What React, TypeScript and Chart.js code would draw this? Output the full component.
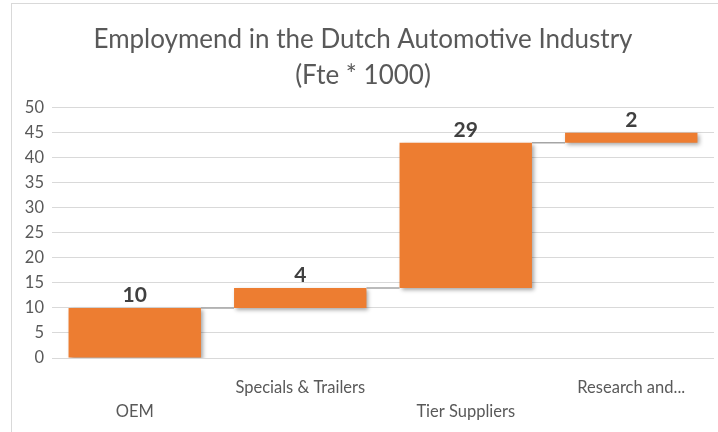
import React, { useEffect, useRef } from "react";
import { Chart, registerables } from "chart.js";

Chart.register(...registerables);

const categories = ["OEM", "Specials & Trailers", "Tier Suppliers", "Research and..."];
const increments = [10, 4, 29, 2];
const yTicks = [0, 5, 10, 15, 20, 25, 30, 35, 40, 45, 50];
const titleLines = ["Employmend in the Dutch Automotive Industry", "(Fte * 1000)"];

const FONT = "Lato, 'Open Sans', sans-serif";
const TEXT = "#595959";

export default function App() {
  const ref = useRef<HTMLCanvasElement>(null);

  useEffect(() => {
    document.body.style.margin = "0";
    const bases: number[] = [];
    let acc = 0;
    increments.forEach((v) => {
      bases.push(acc);
      acc += v;
    });
    const floating = increments.map((v, i) => [bases[i], bases[i] + v]);

    const frame = {
      id: "frame",
      beforeDraw(chart: any) {
        const ctx = chart.ctx;
        ctx.save();
        ctx.fillStyle = "#ffffff";
        ctx.fillRect(0, 0, chart.width, chart.height);
        ctx.strokeStyle = "#D9D9D9";
        ctx.lineWidth = 1;
        ctx.strokeRect(11.5, 3.5, chart.width + 20, chart.height + 20);
        ctx.restore();
      },
    };

    const shadow = {
      id: "shadow",
      beforeDatasetDraw(chart: any) {
        const ctx = chart.ctx;
        ctx.save();
        ctx.shadowColor = "rgba(0,0,0,0.35)";
        ctx.shadowBlur = 4;
        ctx.shadowOffsetX = 2;
        ctx.shadowOffsetY = 2;
      },
      afterDatasetDraw(chart: any) {
        chart.ctx.restore();
      },
    };

    const connectors = {
      id: "connectors",
      afterDatasetsDraw(chart: any) {
        const ctx = chart.ctx;
        const meta = chart.getDatasetMeta(0);
        const y = chart.scales.y;
        ctx.save();
        ctx.strokeStyle = "#A5A5A5";
        ctx.lineWidth = 1.5;
        for (let i = 0; i < meta.data.length - 1; i++) {
          const a = meta.data[i];
          const b = meta.data[i + 1];
          const level = y.getPixelForValue(floating[i][1]);
          ctx.beginPath();
          ctx.moveTo(a.x + a.width / 2, level);
          ctx.lineTo(b.x - b.width / 2, level);
          ctx.stroke();
        }
        ctx.font = `bold 21px ${FONT}`;
        ctx.fillStyle = "#404040";
        ctx.textAlign = "center";
        ctx.textBaseline = "bottom";
        meta.data.forEach((bar: any, i: number) => {
          const top = y.getPixelForValue(floating[i][1]);
          ctx.fillText(String(increments[i]), bar.x, top - 2);
        });
        ctx.restore();
      },
    };

    const chart = new Chart(ref.current!, {
      type: "bar",
      data: {
        labels: categories,
        datasets: [
          {
            data: floating as any,
            backgroundColor: "#ED7D31",
            borderWidth: 0,
            categoryPercentage: 0.8,
            barPercentage: 1.0,
          },
        ],
      },
      options: {
        animation: false,
        responsive: false,
        layout: { padding: { left: 12, right: 4, top: 0, bottom: 0 } },
        plugins: {
          legend: { display: false },
          tooltip: { enabled: false },
          title: {
            display: true,
            text: titleLines,
            color: TEXT,
            font: { family: FONT, size: 26, weight: "normal", lineHeight: 1.4 },
            padding: { top: 21, bottom: 14 },
          },
        },
        scales: {
          x: {
            grid: { display: false },
            border: { display: false },
            ticks: {
              color: TEXT,
              font: { family: FONT, size: 16.5, lineHeight: 1.5 },
              autoSkip: false,
              maxRotation: 0,
              minRotation: 0,
              padding: 9,
              callback: (_v: any, i: number) => (i % 2 === 0 ? ["", categories[i]] : [categories[i], ""]),
            },
            afterFit: (s: any) => {
              s.height = 74;
            },
          },
          y: {
            min: 0,
            max: 50,
            grid: { color: "#D9D9D9", lineWidth: 1, drawTicks: false },
            border: { display: false },
            afterBuildTicks: (s: any) => {
              s.ticks = yTicks.map((v) => ({ value: v }));
            },
            ticks: {
              color: TEXT,
              font: { family: FONT, size: 16.5 },
              padding: 8,
            },
            afterFit: (s: any) => {
              s.width = 40;
            },
          },
        },
      },
      plugins: [frame, shadow, connectors],
    } as any);
    return () => chart.destroy();
  }, []);

  return (
    <div style={{ position: "absolute", left: 0, top: 0, width: 718, height: 432 }}>
      <canvas ref={ref} width={718} height={432} style={{ display: "block" }} />
    </div>
  );
}
